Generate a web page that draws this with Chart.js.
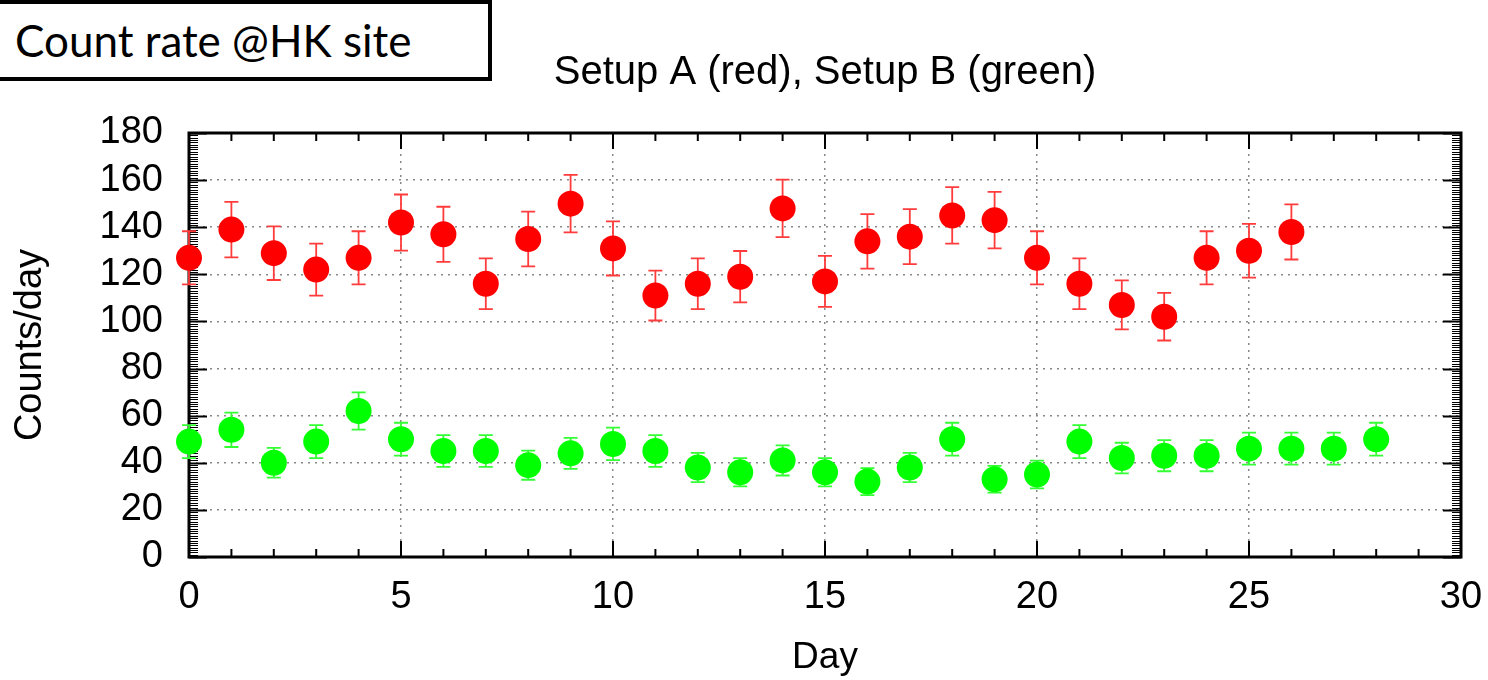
<!DOCTYPE html>
<html>
<head>
<meta charset="utf-8">
<script src="https://cdn.jsdelivr.net/npm/chart.js@4.4.1/dist/chart.umd.min.js"></script>
<style>
  body { margin: 0; background: #fff; }
  #wrap { position: relative; width: 1488px; height: 680px; }
  #label {
    position: absolute; left: -5px; top: 0; width: 473px; height: 73px;
    border: 4px solid #000; background: #fff;
    font-family: Lato, "Liberation Sans", sans-serif; font-size: 44px;
    line-height: 73px; padding-left: 16px; box-sizing: content-box; color: #000;
  }
</style>
</head>
<body>
<div id="wrap">
  <canvas id="rateChart" width="1488" height="680"></canvas>
  <div id="label">Count rate @HK site</div>
</div>
<script>
// Setup A (red)
const dayA = [0,1,2,3,4,5,6,7,8,9,10,11,12,13,14,15,16,17,18,19,20,21,22,23,24,25,26];
const countsA = [127,139,129,122,127,142,137,116,135,150,131,111,116,119,148,117,134,136,145,143,127,116,107,102,127,130,138];
const errA = [11.3,11.8,11.4,11,11.3,11.9,11.7,10.8,11.6,12.2,11.5,10.6,10.8,10.9,12.2,10.8,11.6,11.7,12,12,11.3,10.8,10.4,10.1,11.3,11.4,11.7];

// Setup B (green)
const dayB = [0,1,2,3,4,5,6,7,8,9,10,11,12,13,14,15,16,17,18,19,20,21,22,23,24,25,26,27,28];
const countsB = [49,54,40,49,62,50,45,45,39,44,48,45,38,36,41,36,32,38,50,33,35,49,42,43,43,46,46,46,50];
const errB = [7,7.3,6.3,7,7.9,7,6.7,6.7,6.2,6.6,6.9,6.7,6.2,6,6.4,6,5.7,6.2,7,5.7,5.9,7,6.5,6.6,6.6,6.8,6.8,6.8,7];

const xTicks = [0,5,10,15,20,25,30];
const yTicks = [0,20,40,60,80,100,120,140,160,180];
const chartTitle = 'Setup A (red), Setup B (green)';

const FONT = '"Liberation Sans", Arial, sans-serif';
Chart.defaults.font.family = FONT;
Chart.defaults.color = '#000';

const pts = (xs, ys, es) => xs.map((x, i) => ({ x, y: ys[i], err: es[i] }));

// frame, inward ticks, error bars and title
const framePlugin = {
  id: 'frame',
  beforeDatasetsDraw(chart) {
    const { ctx, chartArea: a, scales: { x, y } } = chart;
    ctx.save();
    ctx.strokeStyle = '#000';

    // x ticks, top and bottom
    ctx.lineWidth = 2;
    for (let v = x.min; v <= x.max; v++) {
      const px = x.getPixelForValue(v);
      const len = v % 5 === 0 ? 16 : 8;
      ctx.beginPath();
      ctx.moveTo(px, a.bottom); ctx.lineTo(px, a.bottom - len);
      ctx.moveTo(px, a.top); ctx.lineTo(px, a.top + len);
      ctx.stroke();
    }
    // y ticks, left and right (dense comb)
    for (let v = y.min; v <= y.max; v++) {
      const py = Math.round(y.getPixelForValue(v)) + 0.5;
      const major = v % 20 === 0;
      const len = major ? 18 : 9;
      ctx.lineWidth = major ? 2 : 1;
      ctx.beginPath();
      ctx.moveTo(a.left, py); ctx.lineTo(a.left + len, py);
      ctx.moveTo(a.right, py); ctx.lineTo(a.right - len, py);
      ctx.stroke();
    }
    ctx.lineWidth = 3;
    ctx.strokeRect(a.left, a.top, a.right - a.left, a.bottom - a.top);

    // error bars
    chart.data.datasets.forEach(ds => {
      ctx.strokeStyle = ds.errColor;
      ctx.lineWidth = 1.8;
      ds.data.forEach(p => {
        const px = x.getPixelForValue(p.x);
        const hi = y.getPixelForValue(p.y + p.err);
        const lo = y.getPixelForValue(p.y - p.err);
        ctx.beginPath();
        ctx.moveTo(px, hi); ctx.lineTo(px, lo);
        ctx.moveTo(px - 7, hi); ctx.lineTo(px + 7, hi);
        ctx.moveTo(px - 7, lo); ctx.lineTo(px + 7, lo);
        ctx.stroke();
      });
    });

    // title centred on plot
    ctx.fillStyle = '#000';
    ctx.font = '40px ' + FONT;
    ctx.textAlign = 'center';
    ctx.textBaseline = 'middle';
    ctx.fillText(chartTitle, (a.left + a.right) / 2, 73);
    ctx.restore();
  }
};

new Chart(document.getElementById('rateChart'), {
  type: 'scatter',
  data: {
    datasets: [
      { label: 'Setup A', data: pts(dayA, countsA, errA), backgroundColor: '#ff0000',
        errColor: '#ff3b3b', pointRadius: 13, pointBorderWidth: 0, clip: false },
      { label: 'Setup B', data: pts(dayB, countsB, errB), backgroundColor: '#00ff00',
        errColor: '#33ff33', pointRadius: 13, pointBorderWidth: 0, clip: false }
    ]
  },
  options: {
    responsive: false,
    animation: false,
    layout: { padding: { top: 133, right: 27, left: 0, bottom: 0 } },
    plugins: { legend: { display: false }, tooltip: { enabled: false }, title: { display: false } },
    scales: {
      x: {
        type: 'linear', min: 0, max: 30,
        afterBuildTicks: s => { s.ticks = xTicks.map(v => ({ value: v })); },
        afterFit: s => { s.height = 123; s.paddingLeft = 0; s.paddingRight = 0; },
        ticks: { font: { size: 38 }, padding: 18, maxRotation: 0, autoSkip: false },
        grid: { color: '#888', lineWidth: 1.5, drawTicks: false },
        border: { display: false, dash: [2, 5] },
        title: { display: true, text: 'Day', font: { size: 37 }, padding: { top: 0, bottom: 0 } }
      },
      y: {
        min: 0, max: 180,
        afterBuildTicks: s => { s.ticks = yTicks.map(v => ({ value: v })); },
        afterFit: s => { s.width = 189; s.paddingTop = 0; s.paddingBottom = 0; },
        ticks: { font: { size: 38 }, padding: 26, autoSkip: false },
        grid: { color: '#888', lineWidth: 1.5, drawTicks: false },
        border: { display: false, dash: [2, 5] },
        title: { display: true, text: 'Counts/day', font: { size: 38 }, padding: { top: 8, bottom: 0 } }
      }
    }
  },
  plugins: [framePlugin]
});
</script>
</body>
</html>
